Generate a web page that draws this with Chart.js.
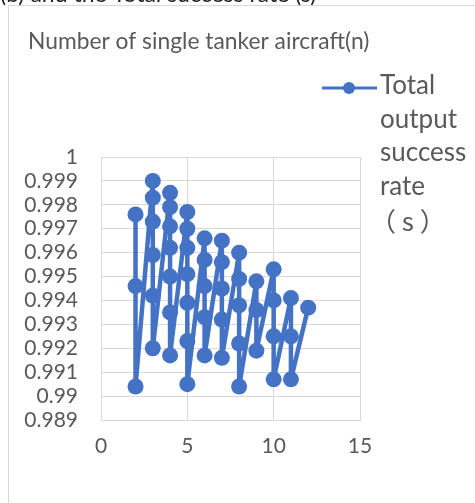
<!DOCTYPE html>
<html>
<head>
<meta charset="utf-8">
<script src="https://cdn.jsdelivr.net/npm/chart.js@4.4.0/dist/chart.umd.min.js"></script>
<style>
  html, body { margin: 0; padding: 0; background: #fff; }
  canvas { display: block; }
</style>
</head>
<body>
<canvas id="rateChart" width="475" height="503"></canvas>
<script>
// number of single tanker aircraft (n) for each point, in drawing order
const tankerCount = [
    2, 2, 2,
    3, 3, 3, 3, 3, 3,
    4, 4, 4, 4, 4, 4, 4,
    5, 5, 5, 5, 5, 5, 5,
    6, 6, 6, 6, 6,
    7, 7, 7, 7, 7,
    8, 8, 8, 8, 8,
    9, 9, 9,
    10, 10, 10, 10,
    11, 11, 11,
    12
];
// total output success rate (s)
const successRate = [
    0.9976, 0.9946, 0.9904,
    0.9990, 0.9983, 0.9973, 0.9959, 0.9942, 0.9920,
    0.9985, 0.9979, 0.9971, 0.9962, 0.9950, 0.9935, 0.9917,
    0.9977, 0.9970, 0.9962, 0.9951, 0.9939, 0.9923, 0.9905,
    0.9966, 0.9957, 0.9946, 0.9933, 0.9917,
    0.9965, 0.9956, 0.9945, 0.9932, 0.9916,
    0.9960, 0.9949, 0.9938, 0.9922, 0.9904,
    0.9948, 0.9936, 0.9919,
    0.9953, 0.9940, 0.9925, 0.9907,
    0.9941, 0.9925, 0.9907,
    0.9937
];
const yTickLabels = ['0.989', '0.99', '0.991', '0.992', '0.993', '0.994', '0.995', '0.996', '0.997', '0.998', '0.999', '1'];
const xTickLabels = ['0', '5', '10', '15'];
const chartTitle = 'Number of single tanker aircraft(n)';
const legendLines = ['Total', 'output', 'success', 'rate', '（ s ）'];
const captionText = '(b) and the Total success rate (s)';

const blue = '#4472C4';
const textGray = '#595959';
const gridGray = '#d9d9d9';

// frame, title, cut caption and the wrapped legend
const decorations = {
    id: 'decorations',
    beforeDraw(chart) {
        const ctx = chart.ctx;
        ctx.save();
        ctx.strokeStyle = gridGray;
        ctx.lineWidth = 1;
        ctx.strokeRect(8.5, 5.5, 500, 520);
        ctx.fillStyle = '#222';
        ctx.font = '23px Lato';
        ctx.textBaseline = 'alphabetic';
        ctx.fillText(captionText, 0, 2);
        ctx.restore();
    },
    afterDraw(chart) {
        const ctx = chart.ctx;
        ctx.save();
        ctx.fillStyle = textGray;
        ctx.font = '22.8px Lato';
        ctx.textBaseline = 'alphabetic';
        ctx.fillText(chartTitle, 28, 49);

        // legend sample
        ctx.strokeStyle = blue;
        ctx.lineWidth = 3;
        ctx.beginPath();
        ctx.moveTo(322, 88);
        ctx.lineTo(377, 88);
        ctx.stroke();
        ctx.fillStyle = blue;
        ctx.beginPath();
        ctx.arc(349, 88, 6, 0, Math.PI * 2);
        ctx.fill();

        ctx.fillStyle = textGray;
        legendLines.forEach((line, i) => {
            const isLast = i === legendLines.length - 1;
            ctx.font = isLast ? '26px "Noto Sans CJK JP"' : '26px Lato';
            ctx.fillText(line, isLast ? 370 : 380, 94 + i * 33.5 + (isLast ? 3 : 0));
        });
        ctx.restore();
    }
};

const points = tankerCount.map((n, i) => ({ x: n, y: successRate[i] }));

new Chart(document.getElementById('rateChart'), {
    type: 'scatter',
    data: {
        datasets: [{
            label: 'Total output success rate（s）',
            data: points,
            showLine: true,
            borderColor: blue,
            backgroundColor: blue,
            borderWidth: 4.5,
            borderJoinStyle: 'round',
            borderCapStyle: 'round',
            pointRadius: 8,
            pointBorderWidth: 0,
            pointBackgroundColor: blue
        }]
    },
    options: {
        responsive: false,
        animation: false,
        devicePixelRatio: 1,
        layout: {
            padding: { left: 0, top: 157, right: 115, bottom: 0 }
        },
        plugins: {
            legend: { display: false },
            tooltip: { enabled: false }
        },
        scales: {
            x: {
                type: 'linear',
                min: 0,
                max: 15,
                afterFit: scale => { scale.height = 83; },
                border: { color: gridGray, width: 1 },
                grid: { color: gridGray, drawTicks: false },
                ticks: {
                    stepSize: 5,
                    padding: 14,
                    color: textGray,
                    font: { family: 'Lato', size: 21 },
                    callback: (value, index) => xTickLabels[index]
                }
            },
            y: {
                type: 'linear',
                min: 0.989,
                max: 1,
                afterFit: scale => { scale.width = 101; },
                border: { color: gridGray, width: 1 },
                grid: { color: gridGray, drawTicks: false },
                ticks: {
                    count: 12,
                    autoSkip: false,
                    padding: 23,
                    color: textGray,
                    font: { family: 'Lato', size: 21 },
                    callback: (value, index) => yTickLabels[index]
                }
            }
        }
    },
    plugins: [decorations]
});
</script>
</body>
</html>
